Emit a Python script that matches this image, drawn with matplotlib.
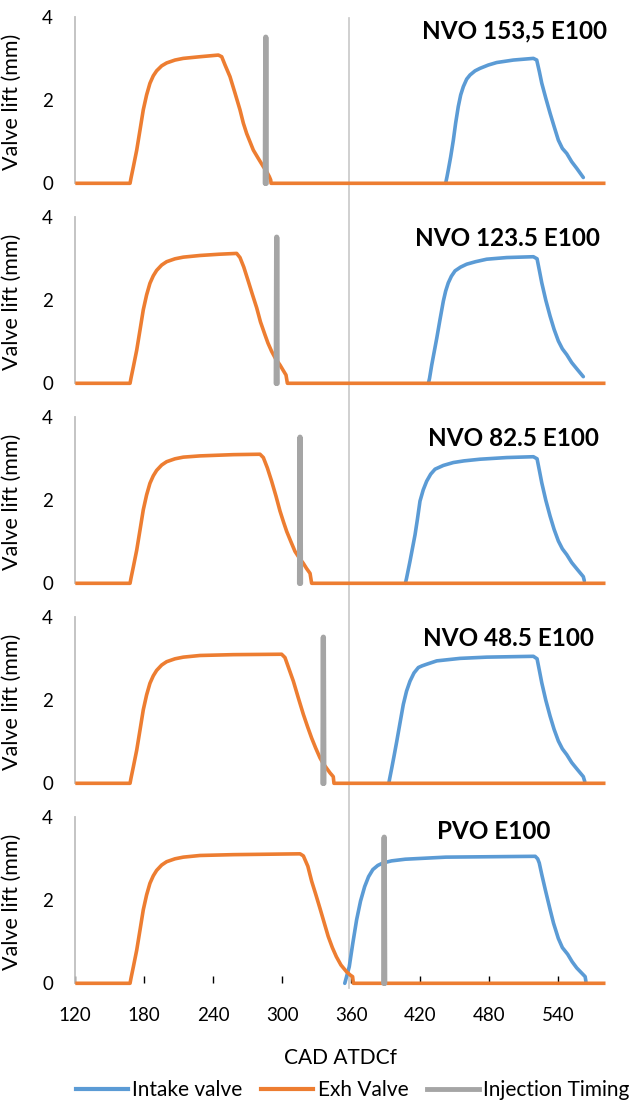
import matplotlib
matplotlib.use("Agg")
import matplotlib.pyplot as plt
from matplotlib.lines import Line2D
from matplotlib.transforms import blended_transform_factory

plt.rcParams['font.family'] = ['Lato', 'DejaVu Sans']

# ---- data (CAD ATDCf, valve lift in mm) ----
titles = ["NVO 153,5 E100", "NVO 123.5 E100", "NVO 82.5 E100", "NVO 48.5 E100", "PVO E100"]

cad_min, cad_max = 120, 581
tdc_line = 358

intake_x = [
    [442.0, 442.3, 443.2, 444.3, 446.4, 448.7, 450.7, 453.0, 455.1, 457.4, 460.3, 463.2, 467.6, 471.9,
     479.1, 486.4, 500.9, 518.3, 521.2, 523.5, 525.6, 529.1, 532.8, 536.3, 540.0, 543.5, 547.3, 551.6,
     556.0, 561.7],
    [427.0, 428.0, 429.9, 432.0, 434.3, 437.0, 440.0, 442.0, 444.3, 447.0, 450.2, 455.0, 460.3, 468.0,
     477.7, 495.1, 518.3, 521.5, 523.5, 525.6, 529.1, 532.8, 536.3, 540.0, 543.5, 547.3, 551.6, 556.0,
     561.7],
    [407.0, 408.0, 411.0, 413.0, 415.4, 417.5, 419.7, 422.5, 425.5, 429.0, 432.8, 440.0, 448.7, 458.0,
     471.9, 495.1, 518.3, 521.5, 523.5, 525.6, 529.1, 532.8, 536.3, 540.0, 543.5, 547.3, 551.6, 556.0,
     561.7, 562.6],
    [392.6, 393.1, 395.1, 397.3, 399.5, 402.3, 405.2, 408.0, 411.0, 414.5, 418.3, 421.5, 425.6, 434.3,
     454.5, 477.7, 518.3, 521.5, 523.5, 525.6, 529.1, 532.8, 536.3, 540.0, 543.5, 547.3, 551.6, 556.0,
     561.7, 563.0],
    [354.3, 354.7, 358.2, 361.2, 364.6, 368.0, 371.6, 375.0, 378.7, 383.0, 387.5, 395.0, 406.9, 442.2,
     519.9, 522.0, 523.4, 525.6, 528.7, 532.8, 535.8, 540.0, 543.5, 548.1, 552.0, 556.0, 563.3, 564.0],
]
intake_y = [
    [0.0, 0.04, 0.16, 0.32, 0.64, 1.04, 1.45, 1.85, 2.13, 2.33, 2.51, 2.61, 2.71, 2.77,
     2.85, 2.91, 2.97, 3.01, 2.97, 2.69, 2.41, 2.05, 1.69, 1.37, 1.04, 0.84, 0.72, 0.52,
     0.36, 0.14],
    [0.0, 0.12, 0.44, 0.75, 1.09, 1.52, 1.98, 2.22, 2.42, 2.58, 2.71, 2.80, 2.87, 2.93,
     2.99, 3.03, 3.05, 3.00, 2.72, 2.42, 2.00, 1.62, 1.30, 1.02, 0.83, 0.69, 0.50, 0.35,
     0.16],
    [0.0, 0.12, 0.53, 0.82, 1.17, 1.55, 1.98, 2.25, 2.46, 2.63, 2.75, 2.84, 2.91, 2.95,
     2.99, 3.03, 3.05, 3.00, 2.72, 2.42, 2.00, 1.62, 1.30, 1.02, 0.83, 0.69, 0.50, 0.35,
     0.16, 0.06],
    [0.0, 0.08, 0.36, 0.68, 1.01, 1.45, 1.90, 2.22, 2.46, 2.66, 2.79, 2.83, 2.87, 2.95,
     3.01, 3.04, 3.06, 3.00, 2.72, 2.42, 2.00, 1.62, 1.30, 1.02, 0.83, 0.69, 0.50, 0.35,
     0.16, 0.04],
    [0.0, 0.04, 0.40, 0.95, 1.53, 1.98, 2.33, 2.57, 2.74, 2.84, 2.90, 2.95, 2.99, 3.04,
     3.06, 3.00, 2.90, 2.62, 2.25, 1.78, 1.45, 1.08, 0.86, 0.70, 0.52, 0.37, 0.16, 0.04],
]

exh_x = [
    [167.6, 168.4, 170.5, 173.4, 176.3, 179.1, 182.0, 184.9, 187.8, 190.7, 195.1, 199.4, 206.7, 213.9,
     228.4, 244.4, 247.3, 250.2, 254.5, 258.9, 263.2, 266.1, 269.0, 271.9, 274.8, 279.1, 283.5, 286.4,
     288.7, 289.9, 290.2],
    [167.6, 168.4, 170.5, 173.4, 176.3, 179.1, 182.0, 184.9, 187.8, 190.7, 195.1, 199.4, 206.7, 213.9,
     228.4, 245.0, 260.3, 263.2, 266.5, 270.4, 274.0, 277.7, 281.0, 284.9, 287.5, 290.7, 294.0, 298.0,
     301.0, 303.2, 304.4],
    [167.6, 168.4, 170.5, 173.4, 176.3, 179.1, 182.0, 184.9, 187.8, 190.7, 195.1, 199.4, 206.7, 213.9,
     228.4, 257.4, 280.6, 283.5, 287.0, 290.7, 294.5, 298.0, 301.0, 303.8, 307.5, 311.0, 314.5, 318.3,
     321.0, 324.1, 325.5],
    [167.6, 168.4, 170.5, 173.4, 176.3, 179.1, 182.0, 184.9, 187.8, 190.7, 195.1, 199.4, 206.7, 213.9,
     228.4, 257.4, 299.4, 302.3, 305.5, 309.6, 314.0, 318.3, 322.0, 325.5, 329.0, 332.8, 335.5, 338.6,
     341.5, 344.3, 344.9],
    [167.6, 168.4, 170.5, 173.4, 176.3, 179.1, 182.0, 184.9, 187.8, 190.7, 195.1, 199.4, 206.7, 213.9,
     228.4, 257.4, 315.4, 318.3, 322.2, 325.5, 329.0, 332.8, 336.5, 339.9, 343.5, 347.0, 351.0, 355.8,
     359.0, 361.1, 361.8],
]
exh_y = [
    [0.0, 0.12, 0.40, 0.80, 1.29, 1.77, 2.13, 2.41, 2.59, 2.71, 2.83, 2.90, 2.97, 3.01,
     3.05, 3.09, 3.05, 2.85, 2.57, 2.17, 1.77, 1.45, 1.20, 1.00, 0.80, 0.60, 0.40, 0.28,
     0.16, 0.08, 0.0],
    [0.0, 0.12, 0.40, 0.80, 1.29, 1.77, 2.13, 2.41, 2.59, 2.72, 2.85, 2.93, 3.00, 3.04,
     3.08, 3.11, 3.13, 3.03, 2.80, 2.46, 2.14, 1.82, 1.48, 1.17, 0.97, 0.77, 0.60, 0.44,
     0.30, 0.20, 0.0],
    [0.0, 0.12, 0.40, 0.80, 1.29, 1.77, 2.13, 2.41, 2.59, 2.72, 2.85, 2.93, 3.00, 3.04,
     3.07, 3.10, 3.11, 3.03, 2.78, 2.46, 2.10, 1.74, 1.48, 1.25, 1.00, 0.77, 0.62, 0.48,
     0.36, 0.24, 0.0],
    [0.0, 0.12, 0.40, 0.80, 1.29, 1.77, 2.13, 2.41, 2.59, 2.72, 2.85, 2.93, 3.00, 3.04,
     3.08, 3.10, 3.11, 3.03, 2.78, 2.46, 2.05, 1.66, 1.36, 1.09, 0.85, 0.61, 0.48, 0.36,
     0.25, 0.16, 0.0],
    [0.0, 0.12, 0.40, 0.80, 1.29, 1.77, 2.13, 2.41, 2.59, 2.72, 2.85, 2.93, 3.00, 3.04,
     3.08, 3.10, 3.12, 3.07, 2.82, 2.46, 2.15, 1.80, 1.45, 1.13, 0.86, 0.64, 0.44, 0.28,
     0.20, 0.16, 0.0],
]

inj_cad = [285.6, 295.1, 315.4, 335.7, 388.6]
inj_lift = 3.52

xticks = [120, 180, 240, 300, 360, 420, 480, 540]
yticks = [0, 2, 4]

c_int = '#5B9BD5'
c_exh = '#ED7D31'
c_inj = '#A5A5A5'

# title placement (data coords, anchor x / centre y)
title_pos = [(582, 3.67, 'right'), (576, 3.5, 'right'), (575, 3.5, 'right'),
             (571, 3.5, 'right'), (484, 3.65, 'center')]

W, H = 635, 1104
fig = plt.figure(figsize=(W / 100, H / 100), dpi=100)

left_px, right_px = 75.3, 605.5
axes = []
for i in range(5):
    base_px = 183.3 + 200 * i
    ax = fig.add_axes([left_px / W, 1 - base_px / H, (right_px - left_px) / W, 166 / H])
    ax.set_facecolor('none')
    axes.append(ax)

    ax.plot(intake_x[i], intake_y[i], color=c_int, lw=2.6, solid_capstyle='round',
            solid_joinstyle='round', clip_on=False, zorder=3)

    xe = [cad_min] + exh_x[i] + [cad_max]
    ye = [0.0] + exh_y[i] + [0.0]
    ax.plot(xe, ye, color=c_exh, lw=2.6, solid_capstyle='butt', solid_joinstyle='round',
            clip_on=False, zorder=4)

    x0 = inj_cad[i]
    ax.plot([x0 - 0.4, x0, x0 + 0.4], [0, inj_lift, 0], color=c_inj, lw=3.8,
            solid_capstyle='round', clip_on=False, zorder=5)

    ax.set_xlim(cad_min, cad_max)
    ax.set_ylim(0, 4)
    ax.set_yticks(yticks)
    ax.tick_params(axis='y', length=0, pad=16, labelsize=13.5)
    for s in ['top', 'right', 'bottom']:
        ax.spines[s].set_visible(False)
    ax.spines['left'].set_color('#BFBFBF')
    ax.spines['left'].set_linewidth(1.3)
    ax.set_ylabel('Valve lift (mm)', fontsize=15.5)
    ax.yaxis.set_label_coords(-0.1005, 0.49)

    tx, ty, ha = title_pos[i]
    ax.text(tx, ty, titles[i], ha=ha, va='center', fontsize=17.5, fontweight='bold')

    if i < 4:
        ax.set_xticks([])
    else:
        ax.set_xticks(xticks)
        ax.tick_params(axis='x', direction='in', length=5, width=1, color='black',
                       pad=17, labelsize=13.5)
        ax.set_xlabel('CAD ATDCf', fontsize=15, va='center')
        ax.xaxis.set_label_coords(0.5, -(1058 - base_px) / 166)

# TDC reference line running through all panels
tr = blended_transform_factory(axes[0].transData, fig.transFigure)
fig.add_artist(Line2D([tdc_line, tdc_line], [1 - 18 / H, 1 - 988 / H], transform=tr,
                      color='#C8C8C8', lw=1.2, zorder=-1))

handles = [Line2D([], [], color=c_int, lw=3),
           Line2D([], [], color=c_exh, lw=3),
           Line2D([], [], color=c_inj, lw=3.5)]
fig.legend(handles, ['Intake valve', 'Exh Valve', 'Injection Timing'],
           loc='center left', bbox_to_anchor=(76 / W, 1 - 1090 / H), ncol=3,
           frameon=False, fontsize=15, handlelength=2.5, handletextpad=0.2,
           columnspacing=0.9, borderaxespad=0, borderpad=0)

fig.savefig('out.png', dpi=100)
